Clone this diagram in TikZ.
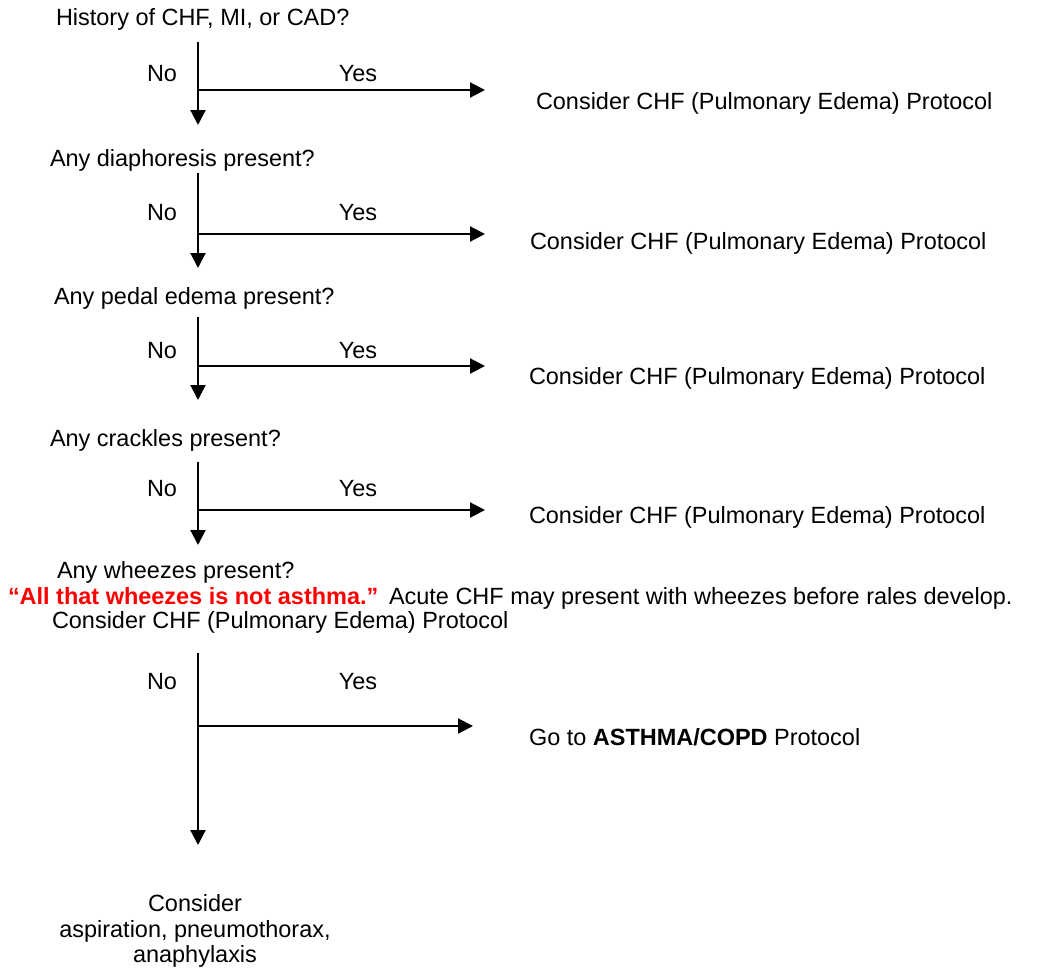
\documentclass[tikz,border=0pt]{standalone}
\usepackage{fontspec}
\setmainfont{Liberation Sans}
\usetikzlibrary{arrows.meta}
\definecolor{alertred}{RGB}{255,0,0}
\begin{document}
\begin{tikzpicture}[x=0.75pt,y=-0.75pt,
  every node/.style={inner sep=0pt,outer sep=0pt,font=\fontsize{17.6pt}{18.9pt}\selectfont},
  label text/.style={anchor=west},
  flow/.style={line width=1.6pt,-{Triangle[length=11.25pt,width=11.25pt]}}]
\useasboundingbox (0,0) rectangle (1042,971);

% questions
\node[label text] (q1) at (56,19) {History of CHF, MI, or CAD?};
\node[label text] (q2) at (50,160) {Any diaphoresis present?};
\node[label text] (q3) at (54,298) {Any pedal edema present?};
\node[label text] (q4) at (50,440) {Any crackles present?};
\node[label text] (q5) at (57,572) {Any wheezes present?};
\node[label text] (warn) at (8,598) {{\color{alertred}\bfseries “All that wheezes is not asthma.”}\hspace{8pt}Acute CHF may present with wheezes before rales develop.};
\node[label text] (warn2) at (52,622) {Consider CHF (Pulmonary Edema) Protocol};

% outcomes on the Yes side
\node[label text] (r1) at (536,103) {Consider CHF (Pulmonary Edema) Protocol};
\node[label text] (r2) at (530,243) {Consider CHF (Pulmonary Edema) Protocol};
\node[label text] (r3) at (529,378) {Consider CHF (Pulmonary Edema) Protocol};
\node[label text] (r4) at (529,517) {Consider CHF (Pulmonary Edema) Protocol};
\node[label text] (r5) at (529,737) {Go to \textbf{ASTHMA/COPD} Protocol};

% final outcome
\node[align=center] (final) at (195,931) {Consider\\aspiration, pneumothorax,\\anaphylaxis};

% No / Yes labels
\foreach \i/\y in {1/74,2/213,3/351,4/489,5/682}{
  \node (no\i) at (162,\y) {No};
  \node (yes\i) at (358,\y) {Yes};
}

% decision branches: start, junction, No end, Yes end
\foreach \i/\top/\mid/\bot/\tip in {1/42/90/125/485,2/173/234/268/485,3/317/366/400/485,4/462/510/545/485,5/653/726/845/473}{
  \coordinate (s\i) at (198,\top);
  \coordinate (j\i) at (198,\mid);
  \coordinate (n\i) at (198,\bot);
  \coordinate (y\i) at (\tip,\mid);
  \draw[flow] (s\i) -- (n\i);
  \draw[flow] (j\i) -- (y\i);
}
\end{tikzpicture}
\end{document}
